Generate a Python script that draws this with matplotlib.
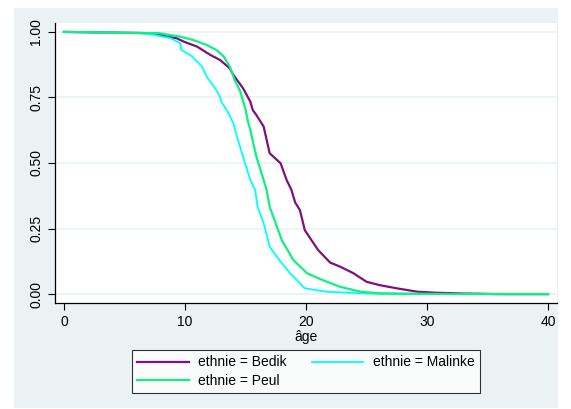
import matplotlib
matplotlib.use("Agg")
import matplotlib.pyplot as plt
from matplotlib.patches import Rectangle

plt.rcParams['font.family'] = ['Liberation Sans', 'DejaVu Sans']

#-----------Data--------------------------------------
bedik_age = [0, 7.4, 8.5, 9.3, 9.9, 11.0, 12.1, 12.9, 13.7, 14.0, 14.8, 15.4, 15.6, 15.9,
             16.5, 17.0, 17.9, 18.4, 18.8, 19.1, 19.5, 19.9, 21.0, 22.0, 22.8, 23.9,
             25.0, 26.1, 27.5, 29.2, 30.8, 33.0, 36.0, 40.0]
bedik_surv = [1.0, 0.995, 0.982, 0.976, 0.963, 0.944, 0.912, 0.893, 0.861, 0.836, 0.785, 0.734, 0.702, 0.683,
              0.639, 0.537, 0.499, 0.435, 0.397, 0.35, 0.32, 0.244, 0.168, 0.12, 0.105, 0.08,
              0.047, 0.034, 0.022, 0.009, 0.005, 0.002, 0.0, 0.0]

malinke_age = [0, 6.3, 7.4, 8.8, 9.6, 9.7, 10.6, 11.4, 11.8, 12.5, 12.9, 13.0, 13.6, 14.0,
               14.3, 14.8, 15.4, 15.8, 16.0, 16.5, 17.0, 17.9, 18.7, 19.9, 21.7, 24.5, 27.0, 40.0]
malinke_surv = [1.0, 0.995, 0.989, 0.976, 0.957, 0.931, 0.906, 0.868, 0.829, 0.785, 0.753, 0.734, 0.690, 0.651,
                0.600, 0.524, 0.435, 0.397, 0.333, 0.27, 0.181, 0.123, 0.079, 0.022, 0.009, 0.003, 0.0, 0.0]

peul_age = [0, 7.9, 9.6, 10.7, 11.8, 12.6, 13.2, 13.7, 14.1, 14.55, 15.0, 15.2, 15.4, 15.9,
            16.5, 16.75, 17.0, 18.0, 18.95, 20.1, 21.4, 22.8, 24.5, 26.0, 30.0, 33.0, 40.0]
peul_surv = [1.0, 0.995, 0.982, 0.969, 0.95, 0.931, 0.906, 0.868, 0.817, 0.775, 0.705, 0.658, 0.626, 0.524,
             0.435, 0.397, 0.333, 0.206, 0.130, 0.079, 0.053, 0.028, 0.009, 0.003, 0.001, 0.0, 0.0]

labels = ["ethnie = Bedik", "ethnie = Malinke", "ethnie = Peul"]
yticks = [0, 0.25, 0.5, 0.75, 1.0]
xticks = [0, 10, 20, 30, 40]

#-----------Plot------------
W, H = 571, 409
fig = plt.figure(figsize=(W / 100, H / 100), dpi=100, facecolor="white")
bg = Rectangle((14 / W, 1 - 408 / H), (558 - 14) / W, (408 - 8) / H,
               transform=fig.transFigure, facecolor="#eaf2f3", edgecolor="none", zorder=-10)
fig.patches.append(bg)

ax = fig.add_axes([55 / W, 1 - 303 / H, (557 - 55) / W, (303 - 23) / H])
ax.set_zorder(1)
ax.set_facecolor("white")

l1, = ax.plot(bedik_age, bedik_surv, color="#7f1080", lw=1.6)
l2, = ax.plot(malinke_age, malinke_surv, color="#00ffff", lw=1.3)
l3, = ax.plot(peul_age, peul_surv, color="#10f080", lw=1.6)

ax.set_xlim(-0.74, 40.74)
ax.set_ylim(-0.034, 1.034)
ax.set_xticks(xticks)
ax.set_yticks(yticks)
ax.set_yticklabels(["%.2f" % v for v in yticks], rotation=90, va="center")
ax.tick_params(labelsize=10, length=5, width=0.8, colors="black")
ax.grid(axis="y", color="#eaf2f3", lw=1.2)
ax.set_axisbelow(True)
for s in ["top", "right"]:
    ax.spines[s].set_visible(False)
ax.spines["left"].set_linewidth(0.9)
ax.spines["bottom"].set_linewidth(0.9)
ax.set_xlabel("âge", fontsize=10, labelpad=1)

leg = fig.legend([l1, l3, l2], [labels[0], labels[2], labels[1]], ncol=2,
                 loc="center", bbox_to_anchor=((128 + 484) / 2 / W, 1 - (349 + 394) / 2 / H),
                 fontsize=10, frameon=True, fancybox=False, edgecolor="black",
                 handlelength=3.7, columnspacing=1.8, handletextpad=0.7,
                 borderpad=0.4, labelspacing=0.3)
leg.get_frame().set_linewidth(0.8)
leg.set_zorder(2)

fig.savefig("out.png", dpi=100)
